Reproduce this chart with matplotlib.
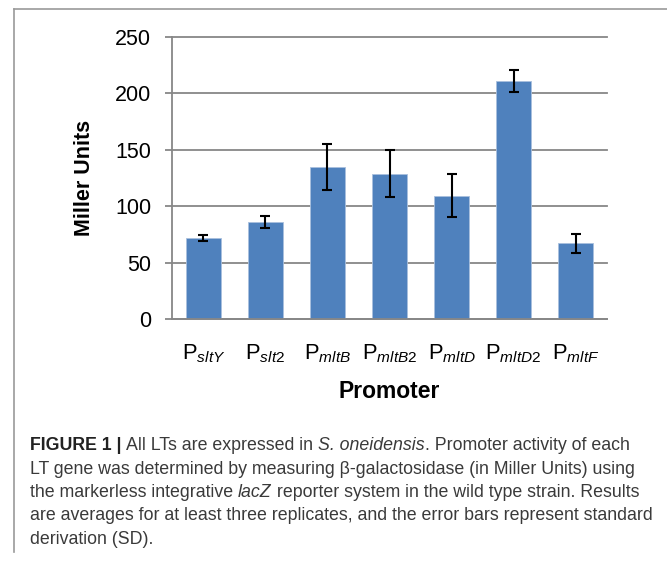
import matplotlib
matplotlib.use('Agg')
import matplotlib.pyplot as plt
from matplotlib.lines import Line2D
import numpy as np

# ---- data ----
promoters = ['sltY', 'slt2', 'mltB', 'mltB2', 'mltD', 'mltD2', 'mltF']
miller_units = [72.2, 86.0, 134.8, 128.8, 109.3, 210.6, 67.2]
sd = [2.7, 5.6, 20.2, 20.6, 18.9, 9.6, 8.6]
y_ticks = [0, 50, 100, 150, 200, 250]
y_label = 'Miller Units'
x_label = 'Promoter'

caption_lines = [
    [("FIGURE 1 | ", 'bold'), ("All LTs are expressed in ", 'normal'),
     ("S. oneidensis", 'italic'), (". Promoter activity of each", 'normal')],
    [("LT gene was determined by measuring \u03b2-galactosidase (in Miller Units) using", 'normal')],
    [("the markerless integrative ", 'normal'), ("lacZ", 'italic'),
     (" reporter system in the wild type strain. Results", 'normal')],
    [("are averages for at least three replicates, and the error bars represent standard", 'normal')],
    [("derivation (SD).", 'normal')],
]

plt.rcParams.update({
    'font.family': ['Liberation Sans', 'DejaVu Sans'],
    'mathtext.fontset': 'custom',
    'mathtext.rm': 'Liberation Sans',
    'mathtext.it': 'Liberation Sans:italic',
    'mathtext.bf': 'Liberation Sans:bold',
})

W, H = 667, 562
fig = plt.figure(figsize=(W / 100, H / 100), dpi=100)

L, R, T, B = 172.3, 606.7, 36.7, 319.3
ax = fig.add_axes([L / W, 1 - B / H, (R - L) / W, (B - T) / H])
x = np.arange(len(promoters))
ax.bar(x, miller_units, width=0.57, color='#4F81BD', edgecolor='#a9c0de',
       linewidth=0.6, zorder=2)
ax.errorbar(x, miller_units, yerr=sd, fmt='none', ecolor='black',
            elinewidth=1.5, capsize=3.3, capthick=1.5, zorder=3)
ax.set_xlim(-0.5, len(promoters) - 0.5)
ax.set_ylim(0, 250)
ax.set_yticks(y_ticks)
ax.yaxis.grid(True, color='#878787', lw=1.3)
for gl in ax.get_ygridlines():
    gl.set_clip_on(False)
ax.set_axisbelow(True)
for s in ['top', 'right']:
    ax.spines[s].set_visible(False)
for s in ['left', 'bottom']:
    ax.spines[s].set_color('#878787')
    ax.spines[s].set_linewidth(1.3)
ax.tick_params(axis='y', length=5, width=1.3, color='#878787', pad=10.3,
               labelsize=15.5, labelcolor='black')
ax.tick_params(axis='x', length=0, pad=16.5, labelsize=15.8, labelcolor='black')
ax.set_xticks(x, [rf'P$_{{\mathit{{{p}}}}}$' for p in promoters])

ax.text((85 - L) / (R - L), 0.5, y_label, transform=ax.transAxes,
        rotation=90, ha='center', va='center', fontsize=15.5, weight='bold')
fig.text(((L + R) / 2) / W, 1 - 398.3 / H, x_label, ha='center',
         va='baseline', fontsize=16.5, weight='bold')

# ---- border ----
bc = '#9a9a9a'
fig.add_artist(Line2D([14 / W, 14 / W], [1 - 9.3 / H, 1 - 552 / H], color=bc, lw=1.2))
fig.add_artist(Line2D([14 / W, 1.0], [1 - 9.3 / H, 1 - 9.3 / H], color=bc, lw=1.2))

# ---- caption ----
renderer = fig.canvas.get_renderer()
cap_family = ['Liberation Sans', 'DejaVu Sans']
cap_color = '#3a3a3a'


def style_kw(st):
    if st == 'bold':
        return dict(weight='bold', color='#222222')
    if st == 'italic':
        return dict(style='italic', color=cap_color)
    return dict(color=cap_color)


def run_width(text, st, size):
    t1 = fig.text(0, 0, text + '|', fontsize=size, family=cap_family, **style_kw(st))
    t2 = fig.text(0, 0, '|', fontsize=size, family=cap_family, **style_kw(st))
    w = t1.get_window_extent(renderer).width - t2.get_window_extent(renderer).width
    t1.remove(); t2.remove()
    return w


ref_w = sum(run_width(t, s, 12) for t, s in caption_lines[3])
cap_size = 12 * 623 / ref_w

baselines = [450, 473.5, 497, 520.5, 544]
for runs, yb in zip(caption_lines, baselines):
    xp = 30.0
    for text, st in runs:
        fig.text(xp / W, 1 - yb / H, text, fontsize=cap_size, family=cap_family,
                 ha='left', va='baseline', **style_kw(st))
        xp += run_width(text, st, cap_size)

fig.savefig('out.png', dpi=100)
